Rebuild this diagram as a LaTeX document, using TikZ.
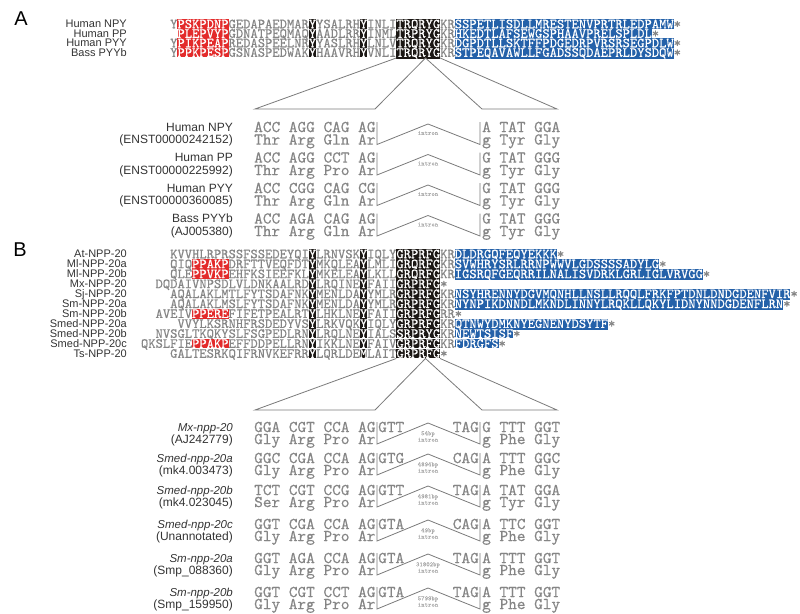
\documentclass[tikz,border=0pt]{standalone}
\usepackage{fontspec}
\setmainfont{Liberation Sans}
\newfontfamily\seqtt{lmmono10-regular.otf}[FakeBold=0.5]
\usetikzlibrary{calc}

\definecolor{seqgrey}{HTML}{858585}
\definecolor{hlred}{HTML}{E32B2B}
\definecolor{hlblue}{HTML}{2461A9}
\definecolor{hlblack}{HTML}{1B1714}
\definecolor{labgrey}{HTML}{333333}
\definecolor{linegrey}{HTML}{7A7A7A}
\definecolor{introngrey}{HTML}{ABABAB}

% highlighted residues (white letters on a coloured band)
\newcommand\hl[2]{{\fboxsep=0pt\colorbox{#1}{\rule[-0.6pt]{0pt}{9.6pt}\textcolor{white}{#2}}}}
\newcommand\hlr[1]{\hl{hlred}{#1}}
\newcommand\hlb[1]{\hl{hlblue}{#1}}
\newcommand\hlk[1]{\hl{hlblack}{#1}}

\def\xo{170}  % x of alignment column 0
\def\cw{7.3}  % width of one residue

\begin{document}
\begin{tikzpicture}[x=1pt,y=-1pt,
    seq/.style={anchor=west,inner sep=0pt,font=\fontsize{13.9}{14}\seqtt,text=seqgrey,text height=8.5pt,text depth=0pt},
    lab/.style={anchor=east,inner sep=0pt,font=\fontsize{11}{12}\selectfont,text=labgrey,text height=7.9pt,text depth=0pt},
    elab/.style={anchor=east,inner sep=0pt,font=\fontsize{12}{13}\selectfont,text=labgrey,text height=8.6pt,text depth=0pt},
    codon/.style={anchor=west,inner sep=0pt,font=\fontsize{16.5}{17}\seqtt,text=seqgrey,text height=10.1pt,text depth=0pt},
    inlab/.style={inner sep=0pt,font=\fontsize{6.5}{5}\seqtt,text=introngrey,align=center},
    intron/.style={draw=linegrey,line width=0.8pt},
    zoomline/.style={draw=linegrey,line width=0.8pt},
    panel/.style={inner sep=0pt,font=\fontsize{20}{22}\selectfont,text=black}]
    \useasboundingbox (0,0) rectangle (800,613);

    % Panel A: NPY family alignment
    \node[panel] (pA) at (21,19) {A};
    \node[lab] (lnpy) at (127,24)   {Human NPY};
    \node[lab] (lpp)  at (127,33.5) {Human PP};
    \node[lab] (lpyy) at (127,43)   {Human PYY};
    \node[lab] (lbas) at (127,52.5) {Bass PYYb};

    \node[seq] (snpy) at ({\xo+\cw*0},24)   {Y\hlr{PSKPDNP}GEDAPAEDMAR\hlk{Y}YSALRH\hlk{Y}INLI\hlk{TRQRYG}KR\hlb{SSPETLISDLLMRESTENVPRTRLEDPAMW}*};
    \node[seq] (spp)  at ({\xo+\cw*1},33.5) {\hlr{PLEPVYP}GDNATPEQMAQ\hlk{Y}AADLRR\hlk{Y}INML\hlk{TRPRYG}KR\hlb{HKEDTLAFSEWGSPHAAVPRELSPLDL}*};
    \node[seq] (spyy) at ({\xo+\cw*0},43)   {Y\hlr{PIKPEAP}REDASPEELNR\hlk{Y}YASLRH\hlk{Y}LNLV\hlk{TRQRYG}KR\hlb{DGPDTLLSKTFFPDGEDRPVRSRSEGPDLW}*};
    \node[seq] (sbas) at ({\xo+\cw*0},52.5) {Y\hlr{PPKPESP}GSNASPEDWAK\hlk{Y}HAAVRH\hlk{Y}VNLI\hlk{TRQRYG}KR\hlb{STPEQAVAWLLFGADSSQDAEPRLDYSDQW}*};

    % zoom onto the TRQRYG motif
    \coordinate (aTL) at ({\xo+\cw*31},58);
    \coordinate (aTM) at ({\xo+\cw*35},58);
    \coordinate (aTR) at ({\xo+\cw*37},58);
    \coordinate (aL1) at (255,109);
    \coordinate (aL2) at (375,109);
    \coordinate (aR1) at (482,109);
    \coordinate (aR2) at (557,109);
    \draw[zoomline] (aTL) -- (aL1) -- (aL2) -- (aTM) -- (aR1) -- (aR2) -- (aTR);

    % exon / intron boundaries, panel A
    \foreach \yt/\nm/\acc/\cod/\res/\rc/\rr [count=\i] in {
        127/Human NPY/ENST00000242152/ACC AGG CAG AG/Thr Arg Gln Ar/A TAT GGA/g Tyr Gly,
        157.5/Human PP/ENST00000225992/ACC AGG CCT AG/Thr Arg Pro Ar/G TAT GGG/g Tyr Gly,
        188/Human PYY/ENST00000360085/ACC CGG CAG CG/Thr Arg Gln Ar/G TAT GGG/g Tyr Gly,
        218.5/Bass PYYb/AJ005380/ACC AGA CAG AG/Thr Arg Gln Ar/G TAT GGG/g Tyr Gly}{
        \pgfmathsetmacro\yb{\yt+12.5}
        \node[elab] (an\i) at (233,\yt) {\nm};
        \node[elab] (aa\i) at (233,\yb) {(\acc)};
        \node[codon] (ac\i) at (254,\yt) {\cod};
        \node[codon] (ar\i) at (254,\yb) {\res};
        \node[codon] (bc\i) at (482,\yt) {\rc};
        \node[codon] (br\i) at (482,\yb) {\rr};
        \coordinate (lt\i) at (377,{\yt-5});
        \coordinate (lb\i) at (377,{\yb+5});
        \coordinate (pk\i) at (428,{\yt-3});
        \coordinate (rb\i) at (480,{\yb+5});
        \coordinate (rt\i) at (480,{\yt-5});
        \draw[intron] (lt\i) -- (lb\i) -- (pk\i) -- (rb\i) -- (rt\i);
        \node[inlab] (il\i) at (428,{\yt+6}) {intron};
    }

    % Panel B: NPP-20 alignment
    \node[panel] (pB) at (20,250) {B};
    \node[lab] (lat)   at (127,254)    {At-NPP-20};
    \node[lab] (lml1)  at (127,263.95) {Ml-NPP-20a};
    \node[lab] (lml2)  at (127,273.9)  {Ml-NPP-20b};
    \node[lab] (lmx)   at (127,283.85) {Mx-NPP-20};
    \node[lab] (lsj)   at (127,293.8)  {Sj-NPP-20};
    \node[lab] (lsm1)  at (127,303.75) {Sm-NPP-20a};
    \node[lab] (lsm2)  at (127,313.7)  {Sm-NPP-20b};
    \node[lab] (lsd1)  at (127,323.65) {Smed-NPP-20a};
    \node[lab] (lsd2)  at (127,333.6)  {Smed-NPP-20b};
    \node[lab] (lsd3)  at (127,343.55) {Smed-NPP-20c};
    \node[lab] (lts)   at (127,353.5)  {Ts-NPP-20};

    \node[seq] (sat)  at ({\xo+\cw*0},254)    {KVVHLRPRSSFSSEDEYQI\hlk{Y}LRNVSK\hlk{Y}IQLY\hlk{GRPRFG}KR\hlb{DLDRGQFEQYEKKK}*};
    \node[seq] (sml1) at ({\xo+\cw*0},263.95) {QIQ\hlr{PPAKP}DRFTTVEQFDT\hlk{Y}MKQLEA\hlk{Y}LMLI\hlk{GRQRFG}KR\hlb{SVWHRYSRLRRNPWWVLGDSSSSADYLG}*};
    \node[seq] (sml2) at ({\xo+\cw*0},273.9)  {QLE\hlr{PPVKP}EHFKSIEEFKL\hlk{Y}MKELEA\hlk{Y}LKLL\hlk{GRQRFG}KR\hlb{IGSRQFGEQRRILNALISVDRKLGRLIGLVRVGG}*};
    \node[seq] (smx)  at ({\xo-\cw*2},283.85) {DQDAIVNPSDLVLDNKAALRD\hlk{Y}LRQINE\hlk{Y}FAII\hlk{GRPRFG}*};
    \node[seq] (ssj)  at ({\xo+\cw*0},293.8)  {AQALAKLMTLFYTSDAFNK\hlk{Y}MENLDA\hlk{Y}YMLR\hlk{GRPRFG}KR\hlb{NSYHRENNYDGVMQNHLLNSLLRQQLFRKFPTDNLDNDGDENFVIR}*};
    \node[seq] (ssm1) at ({\xo+\cw*0},303.75) {AQALAKLMSLFYTSDAFNK\hlk{Y}MENLDA\hlk{Y}YMLR\hlk{GRPRFG}KR\hlb{NYNPIKDNNDLMKNDLINNYLRQKLLQKYLIDNYNNDGDENFLRN}*};
    \node[seq] (ssm2) at ({\xo-\cw*2},313.7)  {AVEIV\hlr{PPERE}FIFETPEALRT\hlk{Y}LHKLNE\hlk{Y}FAII\hlk{GRPRFG}RR*};
    \node[seq] (ssd1) at ({\xo+\cw*1},323.65) {VVYLKSRNHFRSDEDYVS\hlk{Y}LRKVQK\hlk{Y}IQLY\hlk{GRPRFG}KR\hlb{QTNWYDMKNYEGNENYDSYTF}*};
    \node[seq] (ssd2) at ({\xo-\cw*2},333.6)  {NVSGLTKQKYSLFSGPEDLRN\hlk{Y}LRQLNE\hlk{Y}IALS\hlk{SRPRYG}KR\hlb{NEWTSISF}*};
    \node[seq] (ssd3) at ({\xo-\cw*4},343.55) {QKSLFIE\hlr{PPAKP}EFFDDPELLRN\hlk{Y}IKKLNE\hlk{Y}FAIV\hlk{GRPRFG}KR\hlb{FDRGFS}*};
    \node[seq] (sts)  at ({\xo+\cw*0},353.5)  {GALTESRKQIFRNVKEFRR\hlk{Y}LQRLDE\hlk{M}LAIT\hlk{GRPRFG}*};

    % zoom onto the GRPRFG motif
    \coordinate (bTL) at ({\xo+\cw*31},358.5);
    \coordinate (bTM) at ({\xo+\cw*35},358.5);
    \coordinate (bTR) at ({\xo+\cw*37},358.5);
    \coordinate (bL1) at (255,410);
    \coordinate (bL2) at (375,410);
    \coordinate (bR1) at (482,410);
    \coordinate (bR2) at (557,410);
    \draw[zoomline] (bTL) -- (bL1) -- (bL2) -- (bTM) -- (bR1) -- (bR2) -- (bTR);

    % exon / intron boundaries, panel B
    \foreach \yt/\nm/\acc/\cod/\res/\don/\acp/\rc/\rr/\bp [count=\i] in {
        427/Mx-npp-20/AJ242779/GGA CGT CCA AG/Gly Arg Pro Ar/GTT/TAG/G TTT GGT/g Phe Gly/54bp,
        458/Smed-npp-20a/mk4.003473/GGC CGA CCA AG/Gly Arg Pro Ar/GTG/CAG/A TTT GGC/g Phe Gly/4894bp,
        490/Smed-npp-20b/mk4.023045/TCT CGT CCG AG/Ser Arg Pro Ar/GTT/TAG/A TAT GGA/g Tyr Gly/4981bp,
        524/Smed-npp-20c/Unannotated/GGT CGA CCA AG/Gly Arg Pro Ar/GTA/CAG/A TTC GGT/g Phe Gly/49bp,
        558/Sm-npp-20a/Smp\_088360/GGT AGA CCA AG/Gly Arg Pro Ar/GTA/TAG/A TTT GGT/g Phe Gly/31802bp,
        592/Sm-npp-20b/Smp\_159950/GGT CGT CCT AG/Gly Arg Pro Ar/GTA/TAG/A TTT GGT/g Phe Gly/5799bp}{
        \pgfmathsetmacro\yb{\yt+12}
        \node[elab,font=\fontsize{11.5}{13}\itshape] (bn\i) at (233,\yt) {\nm};
        \node[elab] (ba\i) at (233,\yb) {(\acc)};
        \node[codon] (cc\i) at (254,\yt) {\cod};
        \node[codon] (cr\i) at (254,\yb) {\res};
        \node[codon] (dn\i) at (378,\yt) {\don};
        \node[codon,anchor=east] (ap\i) at (479,\yt) {\acp};
        \node[codon] (dc\i) at (482,\yt) {\rc};
        \node[codon] (dr\i) at (482,\yb) {\rr};
        \coordinate (mt\i) at (377,{\yt-5});
        \coordinate (mb\i) at (377,{\yb+5});
        \coordinate (mp\i) at (428,{\yt-4});
        \coordinate (nb\i) at (480,{\yb+5});
        \coordinate (nt\i) at (480,{\yt-5});
        \draw[intron] (mt\i) -- (mb\i) -- (mp\i) -- (nb\i) -- (nt\i);
        \node[inlab] (bl\i) at (428,{\yb-2.5}) {\bp\\intron};
    }
\end{tikzpicture}
\end{document}
